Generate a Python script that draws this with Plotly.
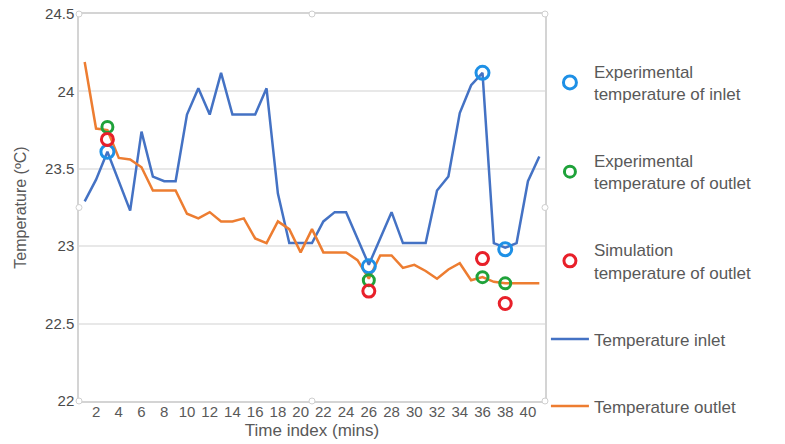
import plotly.graph_objects as go

# Time index (minutes)
time_idx = list(range(1, 42))
x_tick_vals = list(range(2, 41, 2))
y_tick_vals = [22, 22.5, 23, 23.5, 24, 24.5]
y_tick_text = ["22", "22.5", "23", "23.5", "24", "24.5"]

# Measured temperature series (degC)
temp_inlet = [23.29, 23.43, 23.61, 23.42, 23.23, 23.74, 23.45, 23.42, 23.42, 23.85,
              24.02, 23.85, 24.12, 23.85, 23.85, 23.85, 24.02, 23.34, 23.02, 23.02,
              23.02, 23.16, 23.22, 23.22, 23.05, 22.88, 23.05, 23.22, 23.02, 23.02,
              23.02, 23.36, 23.45, 23.86, 24.04, 24.12, 23.02, 22.99, 23.02, 23.42,
              23.58]
temp_outlet = [24.19, 23.76, 23.75, 23.57, 23.56, 23.51, 23.36, 23.36, 23.36, 23.21,
               23.18, 23.22, 23.16, 23.16, 23.18, 23.05, 23.02, 23.16, 23.11, 22.96,
               23.11, 22.96, 22.96, 22.96, 22.91, 22.79, 22.94, 22.94, 22.86, 22.88,
               22.84, 22.79, 22.85, 22.89, 22.78, 22.80, 22.77, 22.76, 22.76, 22.76,
               22.76]

# Spot checks at selected times
check_times = [3, 26, 36, 38]
exp_inlet = [23.61, 22.87, 24.12, 22.98]
exp_outlet = [23.77, 22.78, 22.80, 22.76]
sim_outlet = [23.69, 22.71, 22.92, 22.63]

BLUE_LINE = "#4472C4"
ORANGE_LINE = "#ED7D31"
TEXT = "#595959"
FONT = "Liberation Sans, Arial, sans-serif"

fig = go.Figure()

fig.add_trace(go.Scatter(
    x=time_idx, y=temp_inlet, mode="lines", name="Temperature inlet",
    line=dict(color=BLUE_LINE, width=2.5), legendrank=4, legendgroup="g4"))
fig.add_trace(go.Scatter(
    x=time_idx, y=temp_outlet, mode="lines", name="Temperature outlet",
    line=dict(color=ORANGE_LINE, width=2.5), legendrank=5, legendgroup="g5"))

fig.add_trace(go.Scatter(
    x=check_times, y=exp_inlet, mode="markers",
    name="Experimental<br>temperature of inlet",
    marker=dict(symbol="circle-open", size=13, color="#1E90E6",
                line=dict(width=3, color="#1E90E6")),
    legendrank=1, legendgroup="g1"))
fig.add_trace(go.Scatter(
    x=check_times, y=exp_outlet, mode="markers",
    name="Experimental<br>temperature of outlet",
    marker=dict(symbol="circle-open", size=11, color="#1FA23A",
                line=dict(width=3, color="#1FA23A")),
    legendrank=2, legendgroup="g2"))
fig.add_trace(go.Scatter(
    x=check_times, y=sim_outlet, mode="markers",
    name="Simulation<br>temperature of outlet",
    marker=dict(symbol="circle-open", size=12, color="#E8202A",
                line=dict(width=3, color="#E8202A")),
    legendrank=3, legendgroup="g3"))

# Plot-area frame handles
handles = []
for hx, hy in [(0, 0), (0.5, 0), (1, 0), (0, 0.5), (1, 0.5), (0, 1), (0.5, 1), (1, 1)]:
    handles.append(dict(
        type="circle", xref="paper", yref="paper",
        xsizemode="pixel", ysizemode="pixel",
        xanchor=hx, yanchor=hy, x0=-3, x1=3, y0=-3, y1=3,
        line=dict(color="#cfcfcf", width=1), fillcolor="white", layer="above"))

fig.update_layout(
    width=785, height=444,
    margin=dict(l=79, r=240, t=14, b=43, autoexpand=False),
    paper_bgcolor="white", plot_bgcolor="white",
    font=dict(family=FONT, color=TEXT),
    shapes=handles,
    legend=dict(
        x=1.002, xanchor="left", y=0.897, yanchor="top",
        font=dict(size=17, color=TEXT, family=FONT),
        tracegroupgap=42, itemwidth=38, bgcolor="rgba(0,0,0,0)",
        traceorder="grouped", maxheight=430),
    xaxis=dict(
        range=[0.5, 41.5], tickmode="array", tickvals=x_tick_vals,
        tickfont=dict(size=15, color=TEXT), showgrid=False, zeroline=False,
        showline=True, linecolor="#d4d4d4", linewidth=1.5, mirror=True,
        ticks="", ticklabelstandoff=-4,
        title=dict(text="Time index (mins)", font=dict(size=17, color=TEXT),
                   standoff=5)),
    yaxis=dict(
        range=[22, 24.5], tickmode="array", tickvals=y_tick_vals, ticktext=y_tick_text,
        tickfont=dict(size=15, color="#4a4a4a"), showgrid=True, gridcolor="#e8e8e8",
        gridwidth=1.5, zeroline=False,
        showline=True, linecolor="#d4d4d4", linewidth=1.5, mirror=True,
        ticks="", title=dict(text="Temperature (ºC)", font=dict(size=16, color=TEXT),
                             standoff=14)),
)

fig.write_html("out.html")
